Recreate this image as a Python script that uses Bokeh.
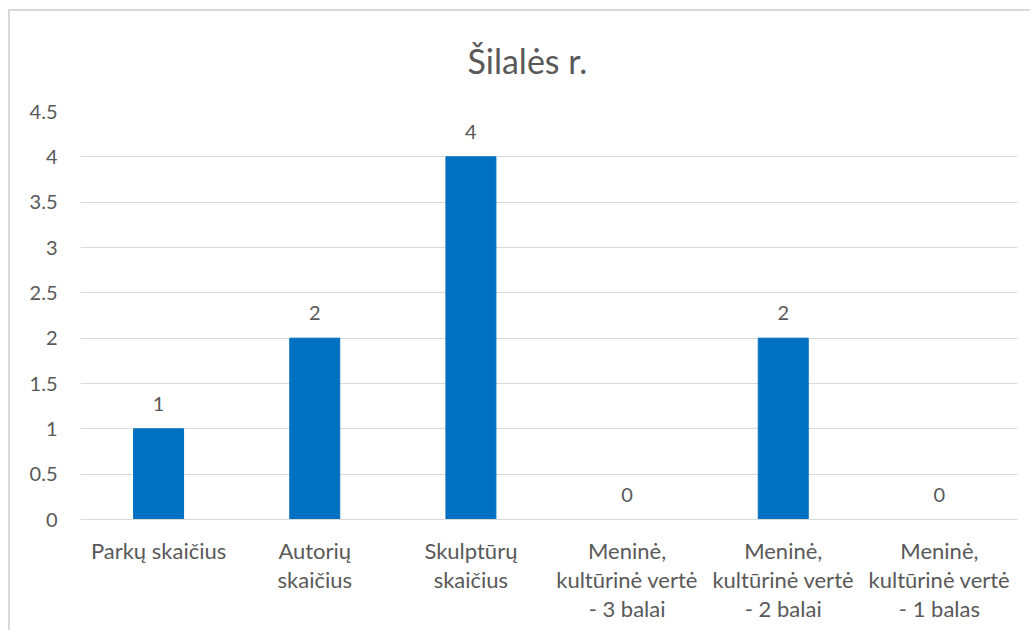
from bokeh.plotting import figure
from bokeh.models import ColumnDataSource, LabelSet, Title, SingleIntervalTicker, FactorRange
from bokeh.core.properties import value
from bokeh.embed import file_html
from bokeh.resources import INLINE

categories = [
    "Parkų skaičius",
    "Autorių\nskaičius",
    "Skulptūrų\nskaičius",
    "Meninė,\nkultūrinė vertė\n- 3 balai",
    "Meninė,\nkultūrinė vertė\n- 2 balai",
    "Meninė,\nkultūrinė vertė\n- 1 balas",
]
values = [1, 2, 4, 0, 2, 0]
labels = [str(v) for v in values]
title_text = "Šilalės r."

FONT = "Lato"
GREY = "#595959"

src = ColumnDataSource(dict(cat=categories, val=values, lab=labels))

p = figure(
    x_range=FactorRange(*categories), y_range=(0, 4.5),
    width=1022, height=621, output_backend="svg", toolbar_location=None,
    min_border_left=70, min_border_right=15, min_border_top=98, min_border_bottom=113,
)
p.styles = {"margin-left": "8px", "margin-top": "9px",
            "border-left": "2px solid #D9D9D9", "border-top": "2px solid #D9D9D9"}
p.outline_line_color = None
p.background_fill_color = "white"
p.border_fill_color = "white"

t = Title(text=title_text, align="left", vertical_align="top", text_font=FONT,
          text_font_size="34px", text_color=GREY, text_font_style="normal",
          offset=387, standoff=57)
p.add_layout(t, "above")

p.vbar(x="cat", top="val", width=0.32, source=src, fill_color="#0070C0", line_color="#0070C0")

ls = LabelSet(x="cat", y="val", text="lab", source=src, text_align="center",
              text_baseline="bottom", y_offset=18, text_font=value(FONT),
              text_font_size=value("20px"), text_color=GREY)
p.add_layout(ls)

p.yaxis.ticker = SingleIntervalTicker(interval=0.5)
p.yaxis.axis_line_color = None
p.yaxis.major_tick_line_color = None
p.yaxis.minor_tick_line_color = None
p.yaxis.major_label_text_font = FONT
p.yaxis.major_label_text_font_size = "20px"
p.yaxis.major_label_text_color = GREY
p.yaxis.major_label_standoff = 17

p.xaxis.axis_line_color = "#D9D9D9"
p.xaxis.major_tick_line_color = None
p.xaxis.minor_tick_line_color = None
p.xaxis.major_label_text_font = FONT
p.xaxis.major_label_text_font_size = "22px"
p.xaxis.major_label_text_color = GREY
p.xaxis.major_label_standoff = 11
p.xaxis.major_label_text_line_height = 1.08

p.xgrid.grid_line_color = None
p.ygrid.grid_line_color = "#D9D9D9"
p.ygrid.grid_line_width = 1

open("out.html", "w").write(file_html(p, INLINE))
